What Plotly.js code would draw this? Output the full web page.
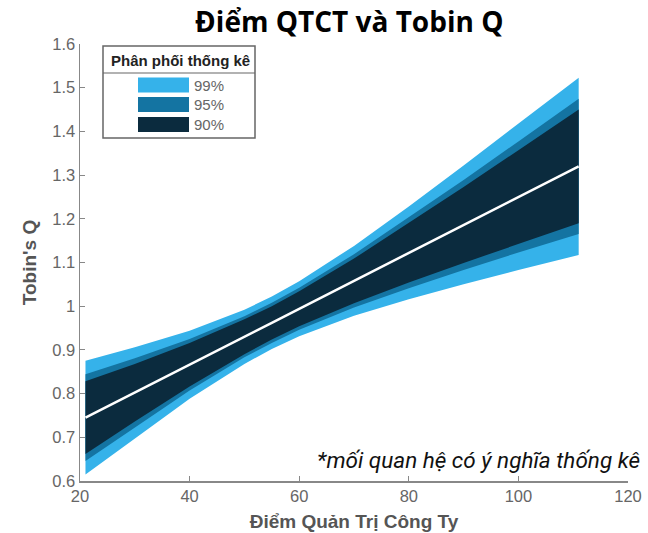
<!DOCTYPE html>
<html>
<head>
<meta charset="utf-8">
<script src="https://cdn.plot.ly/plotly-3.0.1.min.js"></script>
<style>html,body{margin:0;padding:0;background:#fff}#chart{width:648px;height:533px}</style>
</head>
<body>
<div id="chart"></div>
<script>
// Data
var scoreX   = [21, 30, 40, 50, 55, 60, 70, 80, 90, 100, 111];
var fitY     = [0.745, 0.802, 0.866, 0.930, 0.962, 0.994, 1.058, 1.122, 1.186, 1.250, 1.320];
var upper99  = [0.875, 0.906, 0.944, 0.992, 1.022, 1.057, 1.138, 1.228, 1.322, 1.417, 1.523];
var lower99  = [0.615, 0.698, 0.788, 0.868, 0.902, 0.931, 0.978, 1.016, 1.050, 1.083, 1.117];
var upper95  = [0.844, 0.881, 0.925, 0.977, 1.008, 1.042, 1.119, 1.203, 1.289, 1.377, 1.475];
var lower95  = [0.646, 0.723, 0.807, 0.883, 0.916, 0.946, 0.997, 1.041, 1.083, 1.123, 1.165];
var upper90  = [0.828, 0.868, 0.916, 0.970, 1.000, 1.034, 1.109, 1.190, 1.273, 1.357, 1.450];
var lower90  = [0.662, 0.736, 0.816, 0.890, 0.924, 0.954, 1.007, 1.054, 1.099, 1.143, 1.190];
var bandNames = ['99%', '95%', '90%'];
var legendTitle = 'Phân phối thống kê';
var chartTitle = 'Điểm QTCT và Tobin Q';
var xTitle = 'Điểm Quản Trị Công Ty';
var yTitle = "Tobin's Q";
var note = '*mối quan hệ có ý nghĩa thống kê';

var colors = ['#35b2ea', '#1474a2', '#0b2b3e'];
var uppers = [upper99, upper95, upper90];
var lowers = [lower99, lower95, lower90];

function band(up, lo, color, name) {
  var xs = scoreX.concat(scoreX.slice().reverse());
  var ys = up.concat(lo.slice().reverse());
  return {x: xs, y: ys, type: 'scatter', mode: 'lines', fill: 'toself',
          fillcolor: color, line: {width: 0, color: color}, name: name,
          hoverinfo: 'skip', showlegend: false};
}
var traces = [];
for (var i = 0; i < 3; i++) traces.push(band(uppers[i], lowers[i], colors[i], bandNames[i]));
traces.push({x: scoreX, y: fitY, type: 'scatter', mode: 'lines',
  line: {color: '#ffffff', width: 2.5}, showlegend: false});

function px2x(p) { return (p - 80) / 548; }
function py2y(p) { return (481 - p) / 437; }

var shapes = [
  {type: 'rect', xref: 'paper', yref: 'paper', x0: px2x(103), x1: px2x(255), y0: py2y(138), y1: py2y(46),
   line: {color: '#666', width: 1.5}, fillcolor: '#fff', layer: 'above'},
  {type: 'line', xref: 'paper', yref: 'paper', x0: px2x(103), x1: px2x(255), y0: py2y(73), y1: py2y(73),
   line: {color: '#666', width: 1.2}, layer: 'above'}
];
var annotations = [
  {xref: 'paper', yref: 'paper', x: px2x(180), y: py2y(60), text: '<b>' + legendTitle + '</b>', showarrow: false,
   xanchor: 'center', yanchor: 'middle', font: {family: 'Liberation Sans, Arial', size: 15, color: '#222'}},
  {xref: 'paper', yref: 'paper', x: px2x(642), y: py2y(460), text: '<i>' + note + '</i>', showarrow: false,
   xanchor: 'right', yanchor: 'middle', font: {family: 'Roboto', size: 22.5, color: '#111'}}
];
var rowsY = [85, 104.5, 124.5];
for (var j = 0; j < 3; j++) {
  shapes.push({type: 'rect', xref: 'paper', yref: 'paper', x0: px2x(138), x1: px2x(189),
    y0: py2y(rowsY[j] + 7.5), y1: py2y(rowsY[j] - 7.5), line: {width: 0}, fillcolor: colors[j], layer: 'above'});
  annotations.push({xref: 'paper', yref: 'paper', x: px2x(192), y: py2y(rowsY[j]), text: bandNames[j],
    showarrow: false, xanchor: 'left', yanchor: 'middle',
    font: {family: 'Liberation Sans, Arial', size: 15, color: '#666'}});
}

var layout = {
  width: 648, height: 533,
  margin: {l: 80, r: 20, t: 44, b: 52},
  paper_bgcolor: '#fff', plot_bgcolor: '#fff',
  showlegend: false,
  title: {text: '<b>' + chartTitle + '</b>', x: 0.539, xanchor: 'center', y: 0.958, yanchor: 'middle',
          font: {family: 'Open Sans', size: 28, color: '#000'}},
  xaxis: {range: [20, 120], dtick: 20, tick0: 20, showgrid: false, zeroline: false,
    showline: true, linecolor: '#888', linewidth: 1.5, ticks: 'inside', ticklen: 5, tickcolor: '#888',
    tickfont: {family: 'Liberation Sans, Arial', size: 16.5, color: '#666'},
    title: {text: '<b>' + xTitle + '</b>', standoff: 10, font: {family: 'Liberation Sans, Arial', size: 19, color: '#555'}}},
  yaxis: {range: [0.6, 1.6], dtick: 0.1, tick0: 0.6, showgrid: false, zeroline: false,
    showline: true, linecolor: '#888', linewidth: 1.5, ticks: 'inside', ticklen: 5, tickcolor: '#888',
    tickfont: {family: 'Liberation Sans, Arial', size: 16.5, color: '#666'},
    title: {text: '<b>' + yTitle + '</b>', standoff: 10, font: {family: 'Liberation Sans, Arial', size: 19, color: '#555'}}},
  shapes: shapes,
  annotations: annotations
};
Plotly.newPlot('chart', traces, layout, {displayModeBar: false, staticPlot: true});
</script>
</body>
</html>
